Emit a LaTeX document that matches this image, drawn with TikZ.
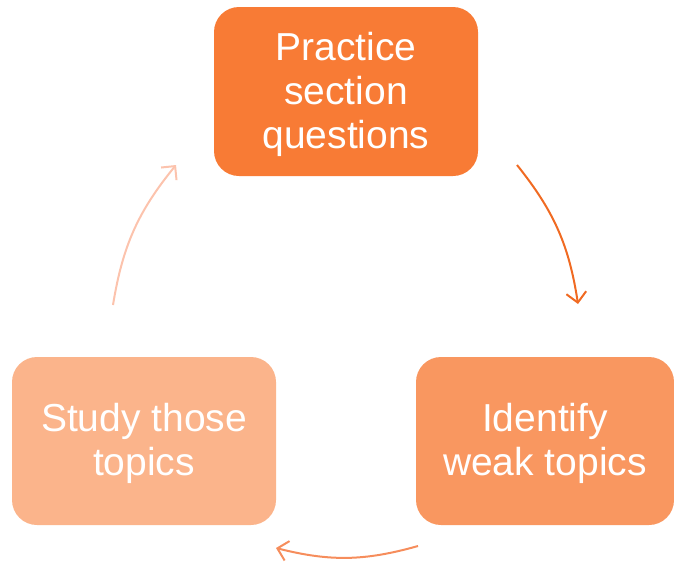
\documentclass[tikz,border=0pt]{standalone}
\usepackage{fontspec}
\setmainfont{Liberation Sans}
\usetikzlibrary{arrows.meta}
\definecolor{boxA}{HTML}{F87B35}
\definecolor{boxB}{HTML}{F99760}
\definecolor{boxC}{HTML}{FBB48B}
\definecolor{arrA}{HTML}{F06A22}
\definecolor{arrB}{HTML}{F68D5C}
\definecolor{arrC}{HTML}{FCC3AD}
\newcommand{\boxtext}[1]{\raisebox{-4pt}[\height][\depth]{\begin{tabular}{@{}c@{}}#1\end{tabular}}}
\tikzset{
  stepbox/.style={rounded corners=25pt, text=white, align=center,
    font=\fontsize{39}{44}\selectfont, inner sep=0pt},
  cyclearrow/.style={line width=2pt, -{Straight Barb[length=10pt,width=20pt,line width=2pt]}}
}
\begin{document}
\begin{tikzpicture}[x=1pt,y=-1pt]
\useasboundingbox (0,0) rectangle (674,563);
\node[stepbox, fill=boxA, minimum width=264pt, minimum height=169pt] (practice) at (346,91.5) {\boxtext{Practice\\section\\questions}};
\node[stepbox, fill=boxB, minimum width=258pt, minimum height=168pt] (identify) at (545,441) {\boxtext{Identify\\weak topics}};
\node[stepbox, fill=boxC, minimum width=264pt, minimum height=168pt] (study) at (144,441) {\boxtext{Study those\\topics}};
\coordinate (a1s) at (517,165);
\coordinate (a1e) at (578,304);
\coordinate (a2s) at (418,546);
\coordinate (a2e) at (276,548);
\coordinate (a3s) at (113,305);
\coordinate (a3e) at (176,165);
\draw[cyclearrow, arrA] (a1s) to[bend left=15] (a1e);
\draw[cyclearrow, arrB] (a2s) to[bend left=15] (a2e);
\draw[cyclearrow, arrC] (a3s) to[bend left=15] (a3e);
\end{tikzpicture}
\end{document}
